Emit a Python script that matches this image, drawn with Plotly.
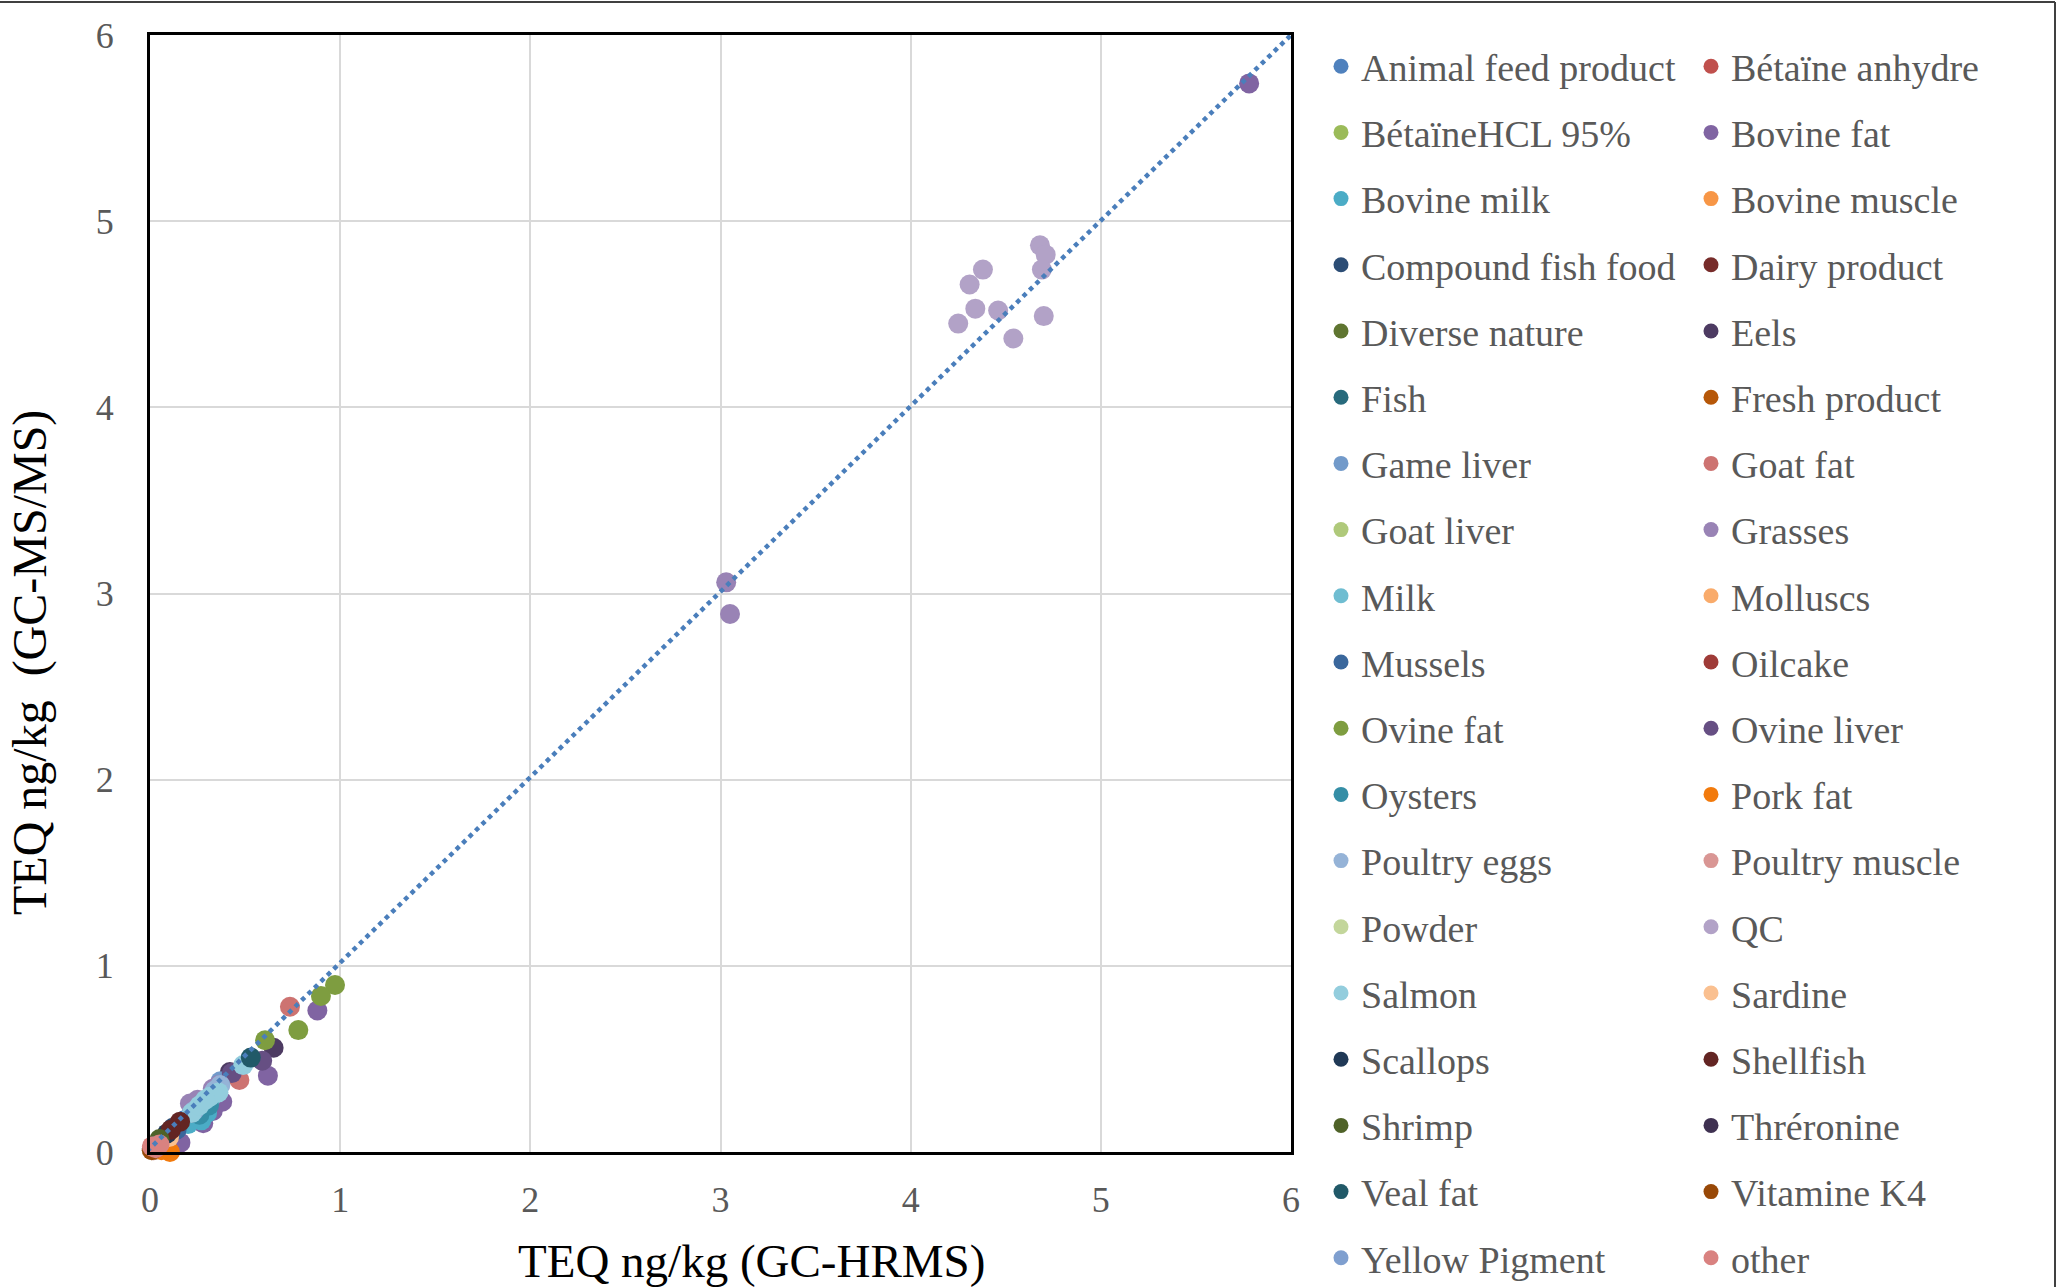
import plotly.graph_objects as go

categories = [
    "Animal feed product", "Bétaïne anhydre", "BétaïneHCL 95%", "Bovine fat",
    "Bovine milk", "Bovine muscle", "Compound fish food", "Dairy product",
    "Diverse nature", "Eels", "Fish", "Fresh product", "Game liver", "Goat fat",
    "Goat liver", "Grasses", "Milk", "Molluscs", "Mussels", "Oilcake",
    "Ovine fat", "Ovine liver", "Oysters", "Pork fat", "Poultry eggs",
    "Poultry muscle", "Powder", "QC", "Salmon", "Sardine", "Scallops",
    "Shellfish", "Shrimp", "Thréronine", "Veal fat", "Vitamine K4",
    "Yellow Pigment", "other",
]

colors = [
    "#4F81BD", "#C0504D", "#9BBB59", "#8064A2", "#4BACC6", "#F79646",
    "#2C4D75", "#772C2A", "#5F7530", "#4D3B62", "#276A7C", "#B65708",
    "#729ACA", "#CD7371", "#AFC97A", "#9983B5", "#6FBDD1", "#F9AB6B",
    "#3A679C", "#9F3B38", "#7E9D40", "#664F83", "#358EA6", "#F27A0C",
    "#95B3D7", "#D99694", "#C3D69B", "#B2A2C7", "#93CDDD", "#FAC090",
    "#203956", "#632523", "#4F6228", "#3F3151", "#215968", "#984807",
    "#7F9FCF", "#D98280",
]

# TEQ ng/kg by GC-HRMS (x) and GC-MS/MS (y), per category
hrms = {
    "Animal feed product": [0.05, 0.12, 0.18],
    "Bétaïne anhydre": [0.01],
    "BétaïneHCL 95%": [0.01],
    "Bovine fat": [5.78, 0.88, 0.62, 0.28, 0.16, 0.38, 0.33],
    "Bovine milk": [0.30, 0.27, 0.20],
    "Bovine muscle": [0.04, 0.06],
    "Compound fish food": [0.12, 0.22],
    "Dairy product": [0.10, 0.07],
    "Diverse nature": [0.03],
    "Eels": [0.65, 0.42],
    "Fish": [0.35, 0.25],
    "Fresh product": [0.02],
    "Game liver": [0.37],
    "Goat fat": [0.736, 0.47],
    "Goat liver": [0.32],
    "Grasses": [3.03, 3.05, 0.21, 0.25, 0.33, 0.36],
    "Milk": [0.28, 0.30, 0.32],
    "Molluscs": [0.08],
    "Mussels": [0.14],
    "Oilcake": [0.02],
    "Ovine fat": [0.973, 0.899, 0.78, 0.605],
    "Ovine liver": [0.43, 0.59],
    "Oysters": [0.26, 0.31],
    "Pork fat": [0.105, 0.06, 0.09],
    "Poultry eggs": [0.37, 0.34, 0.23],
    "Poultry muscle": [0.02, 0.05, 0.009],
    "Powder": [0.01],
    "QC": [4.25, 4.31, 4.34, 4.38, 4.46, 4.54, 4.68, 4.71, 4.69, 4.70],
    "Salmon": [0.49, 0.315, 0.219, 0.26, 0.36, 0.29],
    "Sardine": [0.10],
    "Scallops": [0.09],
    "Shellfish": [0.158, 0.11],
    "Shrimp": [0.05],
    "Thréronine": [0.01],
    "Veal fat": [0.53],
    "Vitamine K4": [0.01],
    "Yellow Pigment": [0.02],
    "other": [0.03, 0.01, 0.05],
}
msms = {
    "Animal feed product": [0.06, 0.11, 0.17],
    "Bétaïne anhydre": [0.012],
    "BétaïneHCL 95%": [0.015],
    "Bovine fat": [5.74, 0.76, 0.41, 0.155, 0.05, 0.27, 0.22],
    "Bovine milk": [0.21, 0.17, 0.15],
    "Bovine muscle": [0.03, 0.04],
    "Compound fish food": [0.13, 0.21],
    "Dairy product": [0.09, 0.06],
    "Diverse nature": [0.04],
    "Eels": [0.56, 0.43],
    "Fish": [0.33, 0.23],
    "Fresh product": [0.02],
    "Game liver": [0.38],
    "Goat fat": [0.78, 0.387],
    "Goat liver": [0.30],
    "Grasses": [3.06, 2.89, 0.26, 0.28, 0.34, 0.36],
    "Milk": [0.24, 0.27, 0.29],
    "Molluscs": [0.06],
    "Mussels": [0.12],
    "Oilcake": [0.01],
    "Ovine fat": [0.897, 0.838, 0.655, 0.60],
    "Ovine liver": [0.424, 0.49],
    "Oysters": [0.20, 0.25],
    "Pork fat": [0.0, 0.01, 0.02],
    "Poultry eggs": [0.36, 0.33, 0.22],
    "Poultry muscle": [0.03, 0.05, 0.01],
    "Powder": [0.01],
    "QC": [4.45, 4.66, 4.53, 4.74, 4.52, 4.37, 4.87, 4.82, 4.74, 4.49],
    "Salmon": [0.467, 0.297, 0.209, 0.25, 0.32, 0.28],
    "Sardine": [0.08],
    "Scallops": [0.10],
    "Shellfish": [0.163, 0.12],
    "Shrimp": [0.07],
    "Thréronine": [0.02],
    "Veal fat": [0.507],
    "Vitamine K4": [0.01],
    "Yellow Pigment": [0.03],
    "other": [0.02, 0.03, 0.04],
}

trend_x = [-0.05, 6.0]
trend_y = [-0.03, 6.0]

FONT = "Liberation Serif"
GRAY = "#595959"

fig = go.Figure()

for i, name in enumerate(categories):
    # data points
    fig.add_trace(go.Scatter(
        x=hrms[name], y=msms[name], mode="markers", name=name,
        legendgroup=name, showlegend=False,
        marker=dict(size=20, color=colors[i], line=dict(width=0)),
        cliponaxis=False,
    ))
    # legend entry (smaller dot, like the reference legend)
    fig.add_trace(go.Scatter(
        x=[None], y=[None], mode="markers", name=name,
        legend="legend" if i % 2 == 0 else "legend2",
        legendgroup=name, showlegend=True, hoverinfo="skip",
        marker=dict(size=15, color=colors[i], line=dict(width=0)),
    ))

fig.add_trace(go.Scatter(
    x=trend_x, y=trend_y, mode="lines", showlegend=False, hoverinfo="skip",
    line=dict(color="#4A7EBB", width=4.5, dash="dot"), cliponaxis=False,
))

legend_common = dict(
    xref="container", yref="container", yanchor="top", xanchor="left",
    orientation="v", traceorder="grouped", tracegroupgap=13.8,
    itemsizing="trace", itemwidth=30, bgcolor="rgba(0,0,0,0)",
    borderwidth=0, maxheight=1287,
    font=dict(family=FONT, size=38, color=GRAY),
)

fig.update_layout(
    width=2060, height=1287,
    margin=dict(l=150, r=769, t=35, b=135),
    paper_bgcolor="white", plot_bgcolor="white",
    showlegend=True,
    legend=dict(x=1321 / 2060, y=1 - 35 / 1287, **legend_common),
    legend2=dict(x=1691 / 2060, y=1 - 35 / 1287, **legend_common),
    xaxis=dict(
        range=[0, 6], dtick=1, tick0=0, showgrid=True, gridcolor="#D9D9D9",
        gridwidth=2, zeroline=False, showline=True, linecolor="black",
        linewidth=3, mirror=True, ticks="", ticklabelstandoff=14,
        tickfont=dict(family=FONT, size=36, color=GRAY),
    ),
    yaxis=dict(
        range=[0, 6], dtick=1, tick0=0, showgrid=True, gridcolor="#D9D9D9",
        gridwidth=2, zeroline=False, showline=True, linecolor="black",
        linewidth=3, mirror=True, ticks="", ticklabelstandoff=26,
        tickfont=dict(family=FONT, size=36, color=GRAY),
    ),
    annotations=[
        dict(text="TEQ ng/kg (GC-HRMS)", xref="paper", yref="paper",
             x=(751 - 150) / 1141, y=(1152 - 1261) / 1117,
             xanchor="center", yanchor="middle", showarrow=False,
             font=dict(family=FONT, size=47, color="black")),
        dict(text="TEQ ng/kg\u00a0 (GC-MS/MS)", xref="paper", yref="paper",
             x=(30 - 150) / 1141, y=(1152 - 663) / 1117, textangle=-90,
             xanchor="center", yanchor="middle", showarrow=False,
             font=dict(family=FONT, size=48, color="black")),
    ],
    shapes=[
        dict(type="line", xref="paper", yref="paper",
             x0=(0 - 150) / 1141, x1=(2055 - 150) / 1141,
             y0=(1152 - 2) / 1117, y1=(1152 - 2) / 1117,
             line=dict(color="#404040", width=2)),
        dict(type="line", xref="paper", yref="paper",
             x0=(2055 - 150) / 1141, x1=(2055 - 150) / 1141,
             y0=(1152 - 2) / 1117, y1=(1152 - 1287) / 1117,
             line=dict(color="#404040", width=2)),
    ],
)

fig.write_html(
    "out.html",
    config={"displayModeBar": False},
    post_script="document.body.style.margin='0';document.body.style.overflow='hidden';",
)
